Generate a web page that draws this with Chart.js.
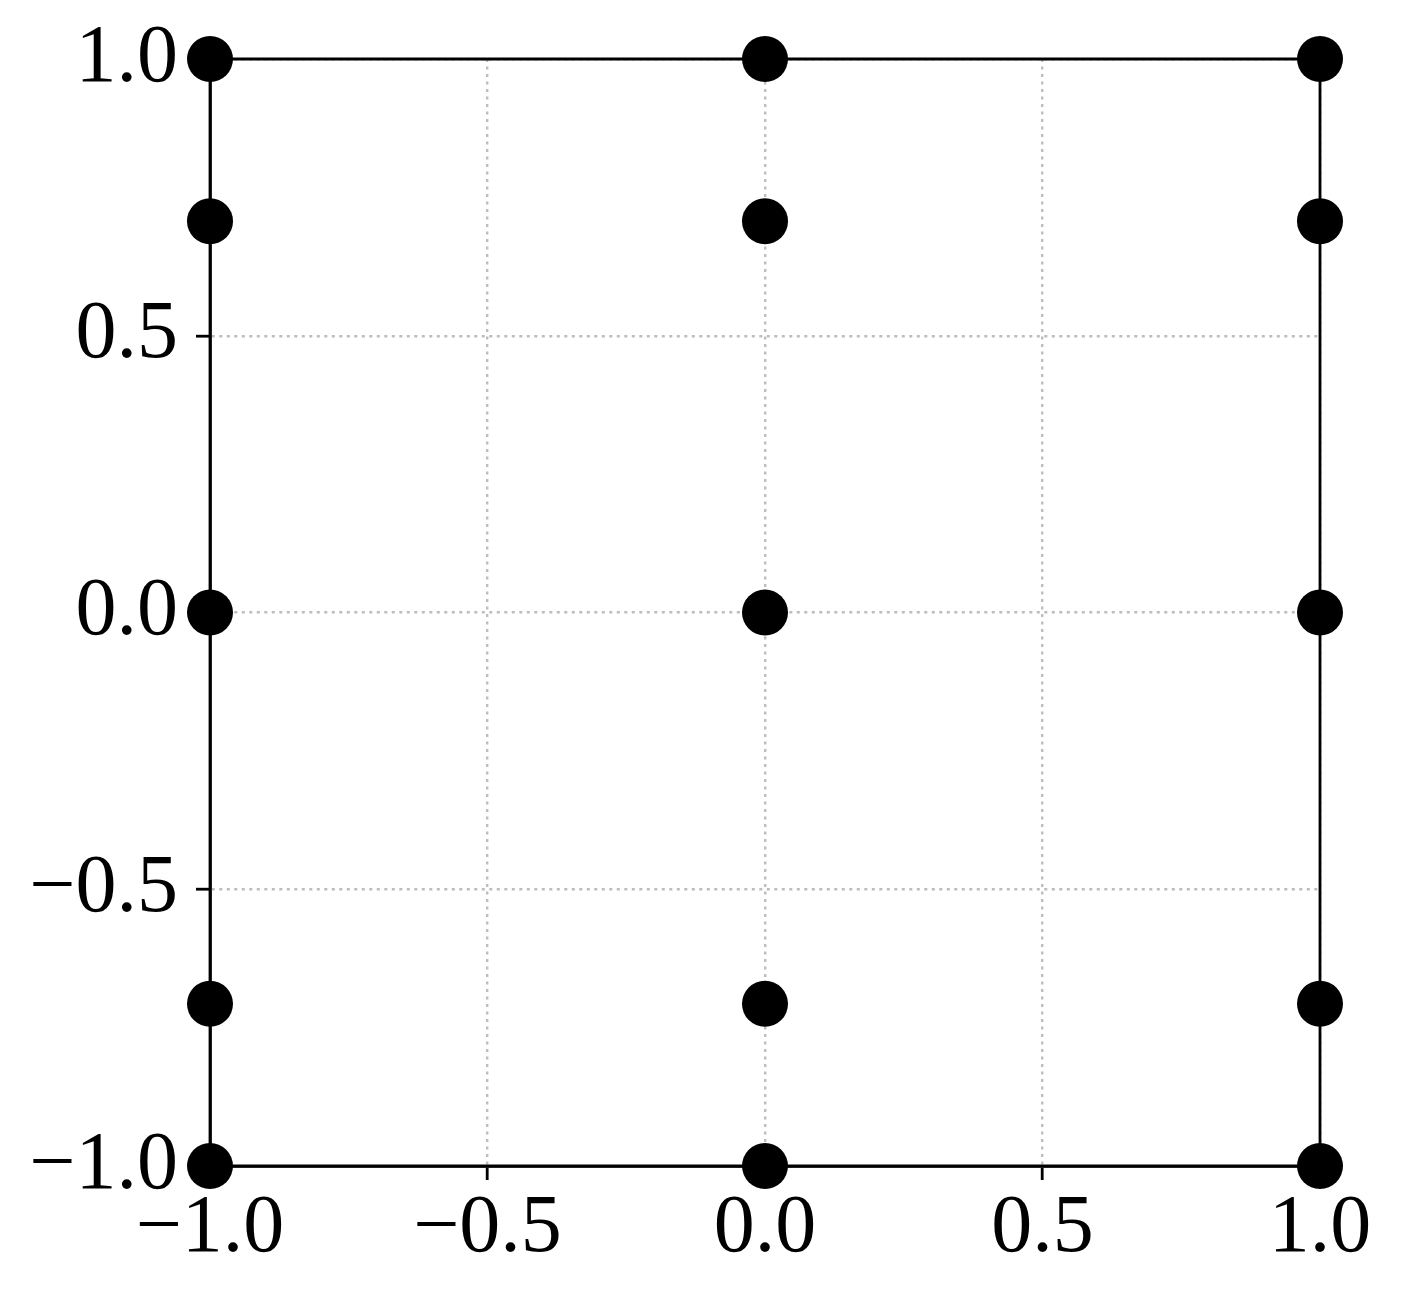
<!DOCTYPE html>
<html lang="en">
<head>
    <meta charset="UTF-8">
    <title>Mesh nodes</title>
    <style>
        body {
            margin: 0;
            background-color: #ffffff;
        }
        #chartBox {
            width: 1401px;
            height: 1301px;
        }
    </style>
    <script src="https://cdn.jsdelivr.net/npm/chart.js"></script>
</head>
<body>
    <div id="chartBox">
        <canvas id="meshChart" width="1401" height="1301"></canvas>
    </div>

    <script>
        // node coordinates
        var nodeX = [-1, -1, -1, -1, -1, 0, 0, 0, 0, 0, 1, 1, 1, 1, 1];
        var nodeY = [1, 0.707, 0, -0.707, -1, 1, 0.707, 0, -0.707, -1, 1, 0.707, 0, -0.707, -1];

        // outline of the square
        var edgeX = [-1, -1, 1, 1, -1];
        var edgeY = [-1, 1, 1, -1, -1];

        var xTickValues = [-1, -0.5, 0, 0.5, 1];
        var yTickValues = [-1, -0.5, 0, 0.5, 1];
        var xTickLabels = ['\u22121.0', '\u22120.5', '0.0', '0.5', '1.0'];
        var yTickLabels = ['\u22121.0', '\u22120.5', '0.0', '0.5', '1.0'];

        function toPoints(xs, ys) {
            return xs.map(function (x, i) { return { x: x, y: ys[i] }; });
        }

        function setTicks(values) {
            return function (scale) {
                scale.ticks = values.map(function (v) { return { value: v }; });
            };
        }

        function labelFor(values, labels) {
            return function (value) {
                var i = values.indexOf(value);
                return i >= 0 ? labels[i] : '';
            };
        }

        var tickFont = { family: '"Liberation Serif", "Times New Roman", serif', size: 82, lineHeight: 1 };

        new Chart(document.getElementById('meshChart').getContext('2d'), {
            type: 'scatter',
            data: {
                datasets: [{
                    label: 'nodes',
                    data: toPoints(nodeX, nodeY),
                    backgroundColor: '#000000',
                    borderColor: '#000000',
                    pointRadius: 23,
                    pointBorderWidth: 0,
                    showLine: false,
                    clip: false
                }, {
                    label: 'edges',
                    data: toPoints(edgeX, edgeY),
                    borderColor: '#000000',
                    borderWidth: 2.8,
                    pointRadius: 0,
                    showLine: true,
                    fill: false,
                    tension: 0,
                    clip: false
                }]
            },
            options: {
                responsive: false,
                animation: false,
                layout: {
                    padding: { top: 58, right: 81, left: 0, bottom: 0 }
                },
                plugins: {
                    legend: { display: false },
                    tooltip: { enabled: false }
                },
                scales: {
                    x: {
                        type: 'linear',
                        min: -1,
                        max: 1,
                        afterBuildTicks: setTicks(xTickValues),
                        afterFit: function (scale) { scale.height = 135; },
                        ticks: {
                            color: '#000000',
                            font: tickFont,
                            padding: 8,
                            maxRotation: 0,
                            callback: labelFor(xTickValues, xTickLabels)
                        },
                        grid: {
                            color: '#bdbdbd',
                            lineWidth: 2.4,
                            tickColor: '#000000',
                            tickWidth: 2.8,
                            tickLength: 14
                        },
                        border: { display: true, color: '#000000', width: 2.8, dash: [3, 4.5] }
                    },
                    y: {
                        type: 'linear',
                        min: -1,
                        max: 1,
                        afterBuildTicks: setTicks(yTickValues),
                        afterFit: function (scale) { scale.width = 210; },
                        ticks: {
                            color: '#000000',
                            font: tickFont,
                            padding: 18,
                            callback: labelFor(yTickValues, yTickLabels)
                        },
                        grid: {
                            color: '#bdbdbd',
                            lineWidth: 2.4,
                            tickColor: '#000000',
                            tickWidth: 2.8,
                            tickLength: 14
                        },
                        border: { display: true, color: '#000000', width: 2.8, dash: [3, 4.5] }
                    }
                }
            }
        });
    </script>
</body>
</html>
